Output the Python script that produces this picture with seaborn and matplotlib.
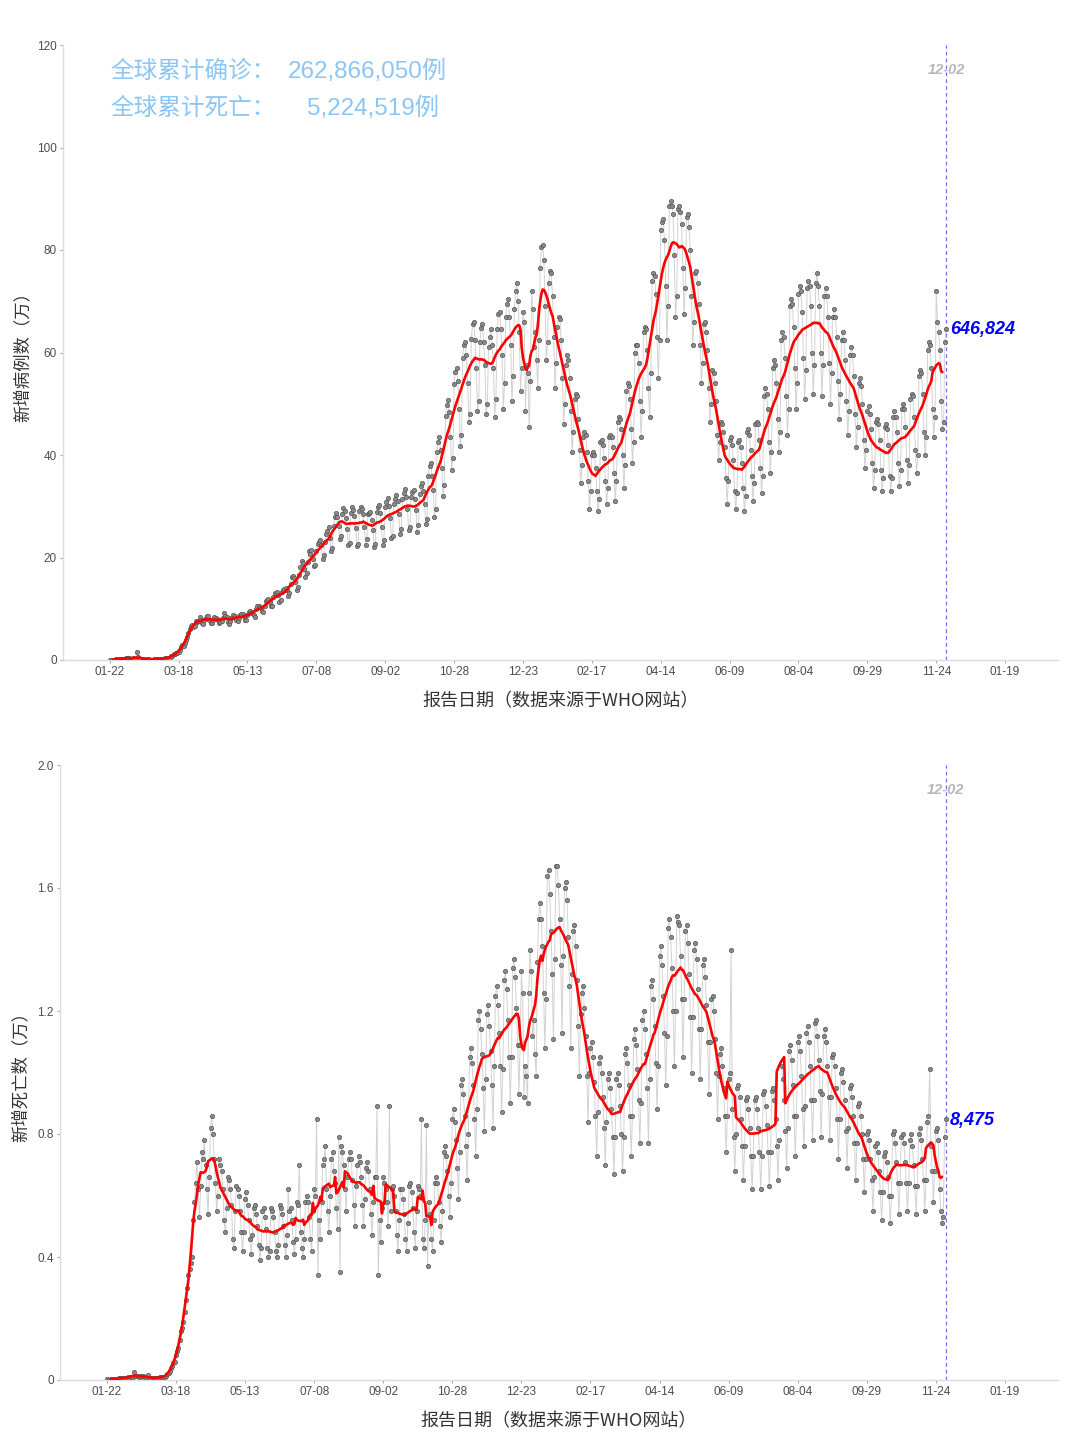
import numpy as np
import pandas as pd
import matplotlib
matplotlib.use("Agg")
import matplotlib.pyplot as plt
import matplotlib.dates as mdates
import seaborn as sns

# ---------------- data (values in 万, one row = one week starting Wednesday) ----------------
start_date = "2020-01-22"
marker_date = "2021-12-02"

new_cases_wan = [
    0.03, 0.01, 0.03, 0.07, 0.08, 0.14, 0.18,
    0.17, 0.20, 0.20, 0.24, 0.27, 0.28, 0.32,
    0.36, 0.37, 0.31, 0.27, 0.26, 0.30, 0.25,
    0.20, 1.56, 0.51, 0.27, 0.22, 0.20, 0.19,
    0.18, 0.06, 0.10, 0.10, 0.10, 0.06, 0.05,
    0.07, 0.10, 0.10, 0.12, 0.20, 0.19, 0.18,
    0.22, 0.23, 0.28, 0.30, 0.39, 0.37, 0.45,
    0.45, 0.72, 0.80, 1.10, 1.10, 1.40, 1.30,
    1.6, 1.9, 2.6, 2.9, 2.7, 3.3, 3.9,
    4.4, 5.2, 6.0, 6.6, 6.8, 6.4, 6.7,
    7.6, 7.4, 7.7, 8.3, 7.9, 7.2, 7.0,
    7.8, 8.2, 8.5, 8.6, 7.9, 7.3, 7.2,
    7.8, 8.4, 8.2, 8.0, 7.9, 7.2, 7.4,
    7.6, 8.1, 9.2, 8.5, 8.3, 7.4, 7.1,
    7.6, 8.2, 8.8, 8.4, 8.6, 7.8, 7.6,
    8.2, 8.8, 8.9, 8.9, 8.5, 7.8, 7.8,
    8.7, 9.4, 9.6, 9.2, 9.4, 8.8, 8.4,
    9.9, 10.6, 10.5, 10.4, 10.1, 9.5, 9.3,
    10.6, 11.5, 11.8, 11.9, 11.4, 10.6, 10.5,
    12.3, 13.0, 12.9, 13.3, 12.6, 11.4, 11.7,
    13.2, 13.6, 13.8, 14.1, 13.6, 12.4, 13.0,
    14.8, 16.1, 16.4, 16.0, 15.2, 13.7, 14.2,
    16.6, 18.1, 19.3, 19.0, 17.8, 16.1, 16.9,
    19.1, 21.2, 20.7, 21.5, 19.8, 18.3, 18.5,
    21.3, 22.6, 23.0, 23.4, 22.4, 19.8, 20.4,
    23.1, 24.5, 25.2, 26.0, 23.8, 21.2, 21.9,
    26.1, 27.9, 28.6, 28.0, 26.2, 23.6, 24.2,
    28.5, 29.6, 29.1, 27.8, 25.6, 22.4, 22.9,
    28.6, 29.8, 29.3, 28.1, 25.7, 22.2, 22.6,
    29.0, 29.9, 29.5, 28.5, 26.0, 22.4, 23.6,
    28.4, 28.6, 28.9, 27.4, 25.4, 22.1, 22.6,
    28.8, 29.8, 30.2, 28.6, 26.0, 22.4, 23.5,
    29.9, 30.8, 31.6, 30.0, 27.8, 23.8, 24.2,
    30.5, 31.5, 32.2, 31.0, 28.4, 24.5, 25.5,
    31.4, 32.6, 33.4, 31.9, 29.5, 25.4, 26.0,
    31.9, 32.8, 33.1, 31.5, 29.2, 25.0, 26.3,
    32.4, 34.0, 34.6, 33.0, 30.4, 26.5, 27.6,
    36.0, 37.8, 38.5, 36.0, 33.2, 28.0, 29.5,
    40.5, 42.5, 43.6, 41.0, 37.5, 32.0, 34.2,
    47.6, 49.8, 50.8, 48.3, 43.5, 37.0, 39.5,
    53.8, 56.2, 57.0, 54.5, 49.0, 41.8, 44.0,
    59.0, 61.4, 62.0, 59.5, 54.0, 46.5, 48.0,
    62.6, 65.6, 66.0, 62.5, 57.0, 48.5, 50.5,
    62.0, 64.8, 65.5, 62.0, 57.6, 48.0, 50.0,
    61.0, 63.0, 64.5, 61.5, 57.0, 47.5, 51.0,
    64.5, 67.5, 68.0, 64.5, 59.5, 49.0, 54.0,
    67.0, 69.5, 70.5, 67.0, 61.5, 50.5, 55.5,
    68.5, 72.0, 73.5, 70.0, 64.0, 52.5, 57.0,
    68.0, 66.0, 48.5, 57.5, 56.0, 45.5, 54.5,
    72.0, 68.5, 61.0, 64.0, 58.5, 53.0, 62.5,
    76.5, 80.5, 81.0, 78.0, 69.0, 58.5, 62.0,
    73.5, 76.0, 75.5, 71.0, 63.0, 53.0, 58.0,
    65.0, 67.0, 66.5, 62.5, 55.0, 46.0, 50.0,
    57.5, 59.5, 58.5, 55.0, 48.5, 40.5, 44.5,
    51.0, 52.0, 51.5, 47.0, 41.0, 34.5, 38.0,
    43.5, 44.5, 44.0, 40.5, 35.0, 29.5, 33.0,
    40.0, 40.5, 40.0, 37.5, 33.0, 29.0, 31.5,
    42.5, 43.0, 42.0, 39.5, 35.0, 30.5, 33.5,
    43.5, 44.0, 43.5, 41.5, 36.5, 31.0, 35.0,
    46.5, 47.5, 47.0, 45.0, 40.0, 33.5, 38.0,
    52.5, 54.0, 53.5, 51.0, 45.0, 38.5, 42.5,
    60.0, 61.5, 61.5, 58.0, 50.5, 43.5, 48.5,
    64.0, 65.0, 64.5, 60.5, 53.0, 47.5, 56.0,
    74.0, 75.5, 75.0, 71.5, 63.0, 55.0, 62.5,
    84.0, 85.5, 86.0, 82.0, 73.0, 62.5, 69.0,
    88.5, 89.5, 88.5, 87.0, 79.0, 67.0, 71.0,
    88.0, 88.5, 87.5, 85.0, 76.5, 67.5, 72.5,
    86.5, 87.0, 84.5, 80.0, 71.0, 61.5, 66.0,
    75.5, 76.0, 73.5, 69.5, 61.5, 54.0, 58.0,
    65.5, 66.0, 64.0, 60.5, 53.0, 46.5, 50.0,
    56.5, 56.0, 54.0, 50.5, 44.0, 39.0, 42.5,
    46.5, 46.0, 44.5, 41.5, 35.5, 30.5, 35.0,
    43.0, 43.5, 42.0, 39.0, 33.0, 29.5, 32.5,
    42.5, 43.0, 41.5, 38.5, 33.5, 29.0, 32.0,
    44.5, 45.0, 44.0, 41.0, 36.0, 31.0, 34.5,
    46.0, 46.5, 46.0, 43.0, 37.5, 32.5, 36.0,
    51.5, 53.0, 52.0, 49.0, 42.5, 36.5, 40.5,
    57.0, 58.5, 57.5, 54.0, 47.0, 40.5, 44.5,
    62.5, 64.0, 63.0, 59.0, 51.5, 44.0, 49.0,
    69.0, 70.5, 69.5, 65.0, 57.0, 49.0, 54.0,
    71.5, 73.0, 72.0, 68.0, 59.0, 51.0, 56.5,
    72.5, 74.0, 73.0, 69.0, 60.0, 52.0, 57.5,
    73.5, 75.5, 73.0, 69.0, 60.0, 51.5, 57.5,
    71.0, 72.5, 71.0, 67.0, 58.0, 50.0, 56.0,
    67.0, 68.5, 67.0, 63.0, 54.5, 47.0, 52.0,
    62.5, 64.0, 62.5, 58.5, 50.5, 44.0, 48.5,
    59.5, 61.0, 59.5, 55.5, 48.0, 41.5, 45.5,
    54.0, 55.0, 53.5, 50.0, 43.0, 37.5, 41.0,
    48.5, 49.5, 48.0, 45.0, 38.5, 33.5, 37.0,
    46.5, 47.0, 46.0, 43.0, 37.0, 33.0, 35.5,
    45.5, 46.0, 45.0, 42.0, 36.0, 33.0, 35.5,
    47.5, 48.5, 47.5, 44.5, 38.5, 34.0, 37.0,
    49.0, 50.0, 49.0, 45.5, 39.0, 34.5, 38.0,
    51.0, 52.0, 51.5, 47.5, 41.0, 36.5, 40.0,
    55.5, 56.5, 56.0, 52.0, 44.5, 40.0, 43.5,
    60.5, 62.0, 61.5, 57.0, 49.0, 43.5, 47.5,
    72.0, 66.0, 64.0, 60.5, 50.5, 45.0, 46.5,
    62.0, 64.6824,
]

new_deaths_wan = [
    0.002, 0.001, 0.001, 0.002, 0.002, 0.002, 0.003,
    0.003, 0.004, 0.004, 0.005, 0.005, 0.006, 0.006,
    0.007, 0.007, 0.007, 0.009, 0.008, 0.010, 0.011,
    0.010, 0.025, 0.014, 0.014, 0.014, 0.010, 0.010,
    0.014, 0.012, 0.011, 0.010, 0.010, 0.015, 0.008,
    0.006, 0.005, 0.006, 0.006, 0.007, 0.007, 0.007,
    0.008, 0.010, 0.010, 0.010, 0.010, 0.011, 0.012,
    0.018, 0.024, 0.030, 0.040, 0.045, 0.056, 0.060,
    0.080, 0.095, 0.105, 0.130, 0.160, 0.170, 0.190,
    0.22, 0.26, 0.30, 0.34, 0.36, 0.38, 0.40,
    0.52, 0.58, 0.64, 0.71, 0.62, 0.53, 0.63,
    0.74, 0.72, 0.78, 0.70, 0.62, 0.54, 0.66,
    0.82, 0.86, 0.80, 0.72, 0.64, 0.55, 0.60,
    0.72, 0.70, 0.68, 0.62, 0.52, 0.48, 0.56,
    0.66, 0.65, 0.62, 0.57, 0.46, 0.43, 0.55,
    0.63, 0.62, 0.60, 0.55, 0.48, 0.42, 0.48,
    0.59, 0.61, 0.57, 0.52, 0.46, 0.41, 0.47,
    0.56, 0.57, 0.54, 0.50, 0.44, 0.39, 0.43,
    0.55, 0.56, 0.53, 0.49, 0.43, 0.40, 0.42,
    0.56, 0.55, 0.53, 0.48, 0.42, 0.40, 0.44,
    0.57, 0.56, 0.54, 0.50, 0.44, 0.40, 0.47,
    0.62, 0.55, 0.56, 0.52, 0.45, 0.41, 0.46,
    0.58, 0.57, 0.70, 0.48, 0.43, 0.40, 0.46,
    0.58, 0.60, 0.58, 0.53, 0.46, 0.42, 0.55,
    0.62, 0.60, 0.85, 0.34, 0.52, 0.46, 0.58,
    0.70, 0.72, 0.76, 0.62, 0.55, 0.48, 0.60,
    0.72, 0.74, 0.68, 0.64, 0.56, 0.49, 0.79,
    0.35, 0.76, 0.74, 0.70, 0.62, 0.55, 0.66,
    0.72, 0.74, 0.72, 0.65, 0.57, 0.50, 0.63,
    0.70, 0.73, 0.71, 0.66, 0.57, 0.50, 0.59,
    0.69, 0.71, 0.68, 0.62, 0.54, 0.47, 0.58,
    0.66, 0.66, 0.89, 0.34, 0.52, 0.45, 0.56,
    0.66, 0.64, 0.62, 0.58, 0.50, 0.89, 0.55,
    0.62, 0.63, 0.60, 0.55, 0.47, 0.42, 0.52,
    0.62, 0.62, 0.59, 0.54, 0.46, 0.42, 0.51,
    0.63, 0.64, 0.61, 0.56, 0.48, 0.43, 0.55,
    0.63, 0.62, 0.60, 0.85, 0.46, 0.43, 0.52,
    0.83, 0.37, 0.58, 0.54, 0.46, 0.42, 0.52,
    0.64, 0.66, 0.64, 0.58, 0.50, 0.45, 0.55,
    0.74, 0.76, 0.73, 0.68, 0.60, 0.53, 0.64,
    0.85, 0.88, 0.84, 0.78, 0.69, 0.59, 0.74,
    0.96, 0.98, 0.93, 0.86, 0.76, 0.65, 0.80,
    1.05, 1.08, 1.03, 0.96, 0.85, 0.73, 0.88,
    1.17, 1.20, 1.14, 1.06, 0.95, 0.81, 0.98,
    1.19, 1.22, 1.15, 1.07, 0.96, 0.82, 1.02,
    1.25, 1.28, 1.22, 1.13, 1.02, 0.87, 1.01,
    1.30, 1.33, 1.27, 1.17, 1.05, 0.90, 1.05,
    1.34, 1.37, 1.31, 1.21, 1.09, 0.93, 1.09,
    1.33, 1.26, 0.92, 1.02, 0.99, 0.90, 1.26,
    1.40, 1.33, 1.12, 1.17, 1.06, 0.99, 1.36,
    1.50, 1.55, 1.50, 1.41, 1.26, 1.08, 1.24,
    1.64, 1.66, 1.58, 1.46, 1.32, 1.11, 1.37,
    1.67, 1.67, 1.61, 1.50, 1.35, 1.13, 1.38,
    1.60, 1.62, 1.56, 1.44, 1.28, 1.08, 1.32,
    1.46, 1.48, 1.41, 1.30, 1.15, 0.99, 1.19,
    1.26, 1.28, 1.21, 1.12, 0.99, 0.84, 1.00,
    1.08, 1.10, 1.05, 0.97, 0.86, 0.73, 0.87,
    1.03, 1.05, 1.00, 0.92, 0.82, 0.70, 0.84,
    0.98, 1.00, 0.95, 0.88, 0.79, 0.67, 0.79,
    0.98, 1.00, 0.96, 0.89, 0.80, 0.68, 0.79,
    1.06, 1.08, 1.03, 0.96, 0.86, 0.73, 0.86,
    1.11, 1.14, 1.09, 1.01, 0.91, 0.77, 0.90,
    1.17, 1.20, 1.14, 1.06, 0.95, 0.77, 0.98,
    1.28, 1.30, 1.24, 1.15, 1.03, 0.88, 1.02,
    1.38, 1.41, 1.35, 1.25, 1.13, 0.96, 1.12,
    1.47, 1.50, 1.44, 1.34, 1.20, 1.02, 1.20,
    1.51, 1.49, 1.48, 1.38, 1.24, 1.05, 1.24,
    1.46, 1.48, 1.42, 1.32, 1.18, 1.00, 1.18,
    1.40, 1.42, 1.37, 1.27, 1.14, 0.98, 1.14,
    1.35, 1.37, 1.31, 1.22, 1.10, 0.93, 1.10,
    1.24, 1.25, 1.20, 1.11, 1.00, 0.85, 0.99,
    1.06, 1.08, 1.02, 0.95, 0.86, 0.74, 0.86,
    0.98, 1.00, 1.40, 0.88, 0.79, 0.68, 0.80,
    0.95, 0.96, 0.92, 0.85, 0.76, 0.65, 0.76,
    0.91, 0.92, 0.88, 0.82, 0.73, 0.62, 0.73,
    0.91, 0.92, 0.88, 0.82, 0.74, 0.62, 0.73,
    0.93, 0.94, 0.89, 0.83, 0.74, 0.63, 0.74,
    0.94, 0.95, 0.91, 0.85, 0.76, 0.65, 0.78,
    2.12, 1.02, 0.98, 0.91, 0.81, 0.69, 0.82,
    1.07, 1.09, 1.04, 0.96, 0.86, 0.73, 0.86,
    1.10, 1.12, 1.07, 0.99, 0.88, 0.76, 0.89,
    1.13, 1.15, 1.10, 1.02, 0.91, 0.78, 0.91,
    1.16, 1.17, 1.12, 1.04, 0.94, 0.79, 0.93,
    1.12, 1.14, 1.10, 1.02, 0.92, 0.78, 0.92,
    1.05, 1.06, 1.02, 0.95, 0.85, 0.72, 0.85,
    1.00, 1.01, 0.97, 0.91, 0.81, 0.69, 0.82,
    0.95, 0.96, 0.92, 0.86, 0.77, 0.65, 0.77,
    0.89, 0.90, 0.86, 0.80, 0.72, 0.61, 0.72,
    0.80, 0.81, 0.78, 0.72, 0.65, 0.55, 0.66,
    0.76, 0.77, 0.74, 0.68, 0.61, 0.52, 0.61,
    0.73, 0.74, 0.71, 0.66, 0.60, 0.51, 0.60,
    0.80, 0.81, 0.77, 0.71, 0.64, 0.54, 0.64,
    0.79, 0.80, 0.77, 0.71, 0.64, 0.55, 0.64,
    0.78, 0.80, 0.76, 0.70, 0.63, 0.54, 0.63,
    0.80, 0.82, 0.78, 0.72, 0.65, 0.55, 0.65,
    0.84, 0.86, 1.01, 0.76, 0.68, 0.58, 0.68,
    0.81, 0.82, 0.78, 0.62, 0.55, 0.51, 0.53,
    0.79, 0.8475,
]

case_yticks = [0, 20, 40, 60, 80, 100, 120]
case_yticklabels = ["0", "20", "40", "60", "80", "100", "120"]
death_yticks = [0, 0.4, 0.8, 1.2, 1.6, 2.0]
death_yticklabels = ["0", "0.4", "0.8", "1.2", "1.6", "2.0"]
xtick_dates = ["2020-01-22", "2020-03-18", "2020-05-13", "2020-07-08", "2020-09-02",
               "2020-10-28", "2020-12-23", "2021-02-17", "2021-04-14", "2021-06-09",
               "2021-08-04", "2021-09-29", "2021-11-24", "2022-01-19"]

total_cases_label = "全球累计确诊："
total_cases_value = "262,866,050例"
total_deaths_label = "全球累计死亡："
total_deaths_value = "5,224,519例"
case_ylabel = "新增病例数（万）"
death_ylabel = "新增死亡数（万）"
xlabel = "报告日期（数据来源于WHO网站）"
last_case_text = "646,824"
last_death_text = "8,475"

# ---------------- style ----------------
sns.set_theme(style="white")
plt.rcParams["font.family"] = ["Liberation Sans", "Noto Sans CJK SC", "DejaVu Sans"]
plt.rcParams["axes.unicode_minus"] = False

W, H = 1080, 1439
fig = plt.figure(figsize=(W / 100, H / 100), dpi=100)
ax1 = fig.add_axes([63 / W, 1 - 660 / H, (1058 - 63) / W, 615 / H])
ax2 = fig.add_axes([60 / W, 1 - 1380 / H, (1058 - 60) / W, 615 / H])

x_lo = pd.Timestamp(start_date) - pd.Timedelta(days=38)
x_hi = pd.Timestamp(start_date) + pd.Timedelta(days=771)
mdate = pd.Timestamp(marker_date)


def draw(ax, values, ymax, yticks, yticklabels, ylabel, last_text, top_label_y, ylab_x):
    dates = pd.date_range(start_date, periods=len(values), freq="D")
    df = pd.DataFrame({"date": dates, "value": values})
    df["ma"] = df["value"].rolling(7, center=True).mean()
    df["shown"] = df["value"].where(df["value"] <= ymax)

    ax.plot(df["date"], df["shown"], color="#d2d2d2", lw=0.7, zorder=1)
    sns.scatterplot(data=df, x="date", y="shown", ax=ax, s=10, color="#8a8a8a",
                    edgecolor="#505050", linewidth=0.45, zorder=2, legend=False)
    sns.lineplot(data=df, x="date", y="ma", ax=ax, color="#ff0000", lw=1.9,
                 zorder=3, legend=False)

    ax.axvline(mdate, color="#6f6fff", lw=0.9, ls=(0, (3, 2.5)), zorder=0)
    ax.text(mdate, top_label_y, "12-02", color="#b8b8b8", fontsize=10.5,
            fontstyle="italic", fontweight="bold", ha="center", va="center")

    last = df.iloc[-1]
    ax.annotate(last_text, xy=(last["date"], last["value"]), xytext=(3, -1),
                textcoords="offset points", color="#0000ff", fontsize=13,
                fontstyle="italic", fontweight="bold", ha="left", va="center")

    ax.set_xlim(x_lo, x_hi)
    ax.set_ylim(0, ymax)
    ax.set_yticks(yticks)
    ax.set_yticklabels(yticklabels)
    ax.set_xticks(pd.to_datetime(xtick_dates))
    ax.xaxis.set_major_formatter(mdates.DateFormatter("%m-%d"))

    for s in ["top", "right"]:
        ax.spines[s].set_visible(False)
    for s in ["left", "bottom"]:
        ax.spines[s].set_color("#dcdcdc")
        ax.spines[s].set_linewidth(1.0)
    ax.tick_params(axis="both", which="major", length=2.5, width=0.8, color="#aaaaaa",
                   labelsize=8.5, labelcolor="#4d4d4d", pad=2, bottom=True, left=True)
    ax.grid(False)

    ax.set_ylabel(ylabel, fontsize=12.5, color="#333333",
                  family=["Noto Sans CJK SC", "DejaVu Sans"])
    ax.yaxis.set_label_coords(ylab_x, 0.5)
    ax.set_xlabel(xlabel, fontsize=13, color="#333333",
                  family=["Noto Sans CJK SC", "DejaVu Sans"])
    ax.xaxis.set_label_coords(0.5, -0.053)


draw(ax1, new_cases_wan, 120, case_yticks, case_yticklabels, case_ylabel,
     last_case_text, 115.2, -0.032)
draw(ax2, new_deaths_wan, 2.0, death_yticks, death_yticklabels, death_ylabel,
     last_death_text, 1.92, -0.030)

blue_txt = "#8cc6f6"
fig.text(110 / W, 1 - 71 / H, total_cases_label, color=blue_txt, fontsize=17,
         ha="left", va="center", family=["Noto Sans CJK SC"])
fig.text(288 / W, 1 - 71 / H, total_cases_value, color=blue_txt, fontsize=17.5,
         ha="left", va="center")
fig.text(110 / W, 1 - 108 / H, total_deaths_label, color=blue_txt, fontsize=17,
         ha="left", va="center", family=["Noto Sans CJK SC"])
fig.text(307 / W, 1 - 108 / H, total_deaths_value, color=blue_txt, fontsize=17.5,
         ha="left", va="center")

fig.savefig("out.png", dpi=100, facecolor="white")
